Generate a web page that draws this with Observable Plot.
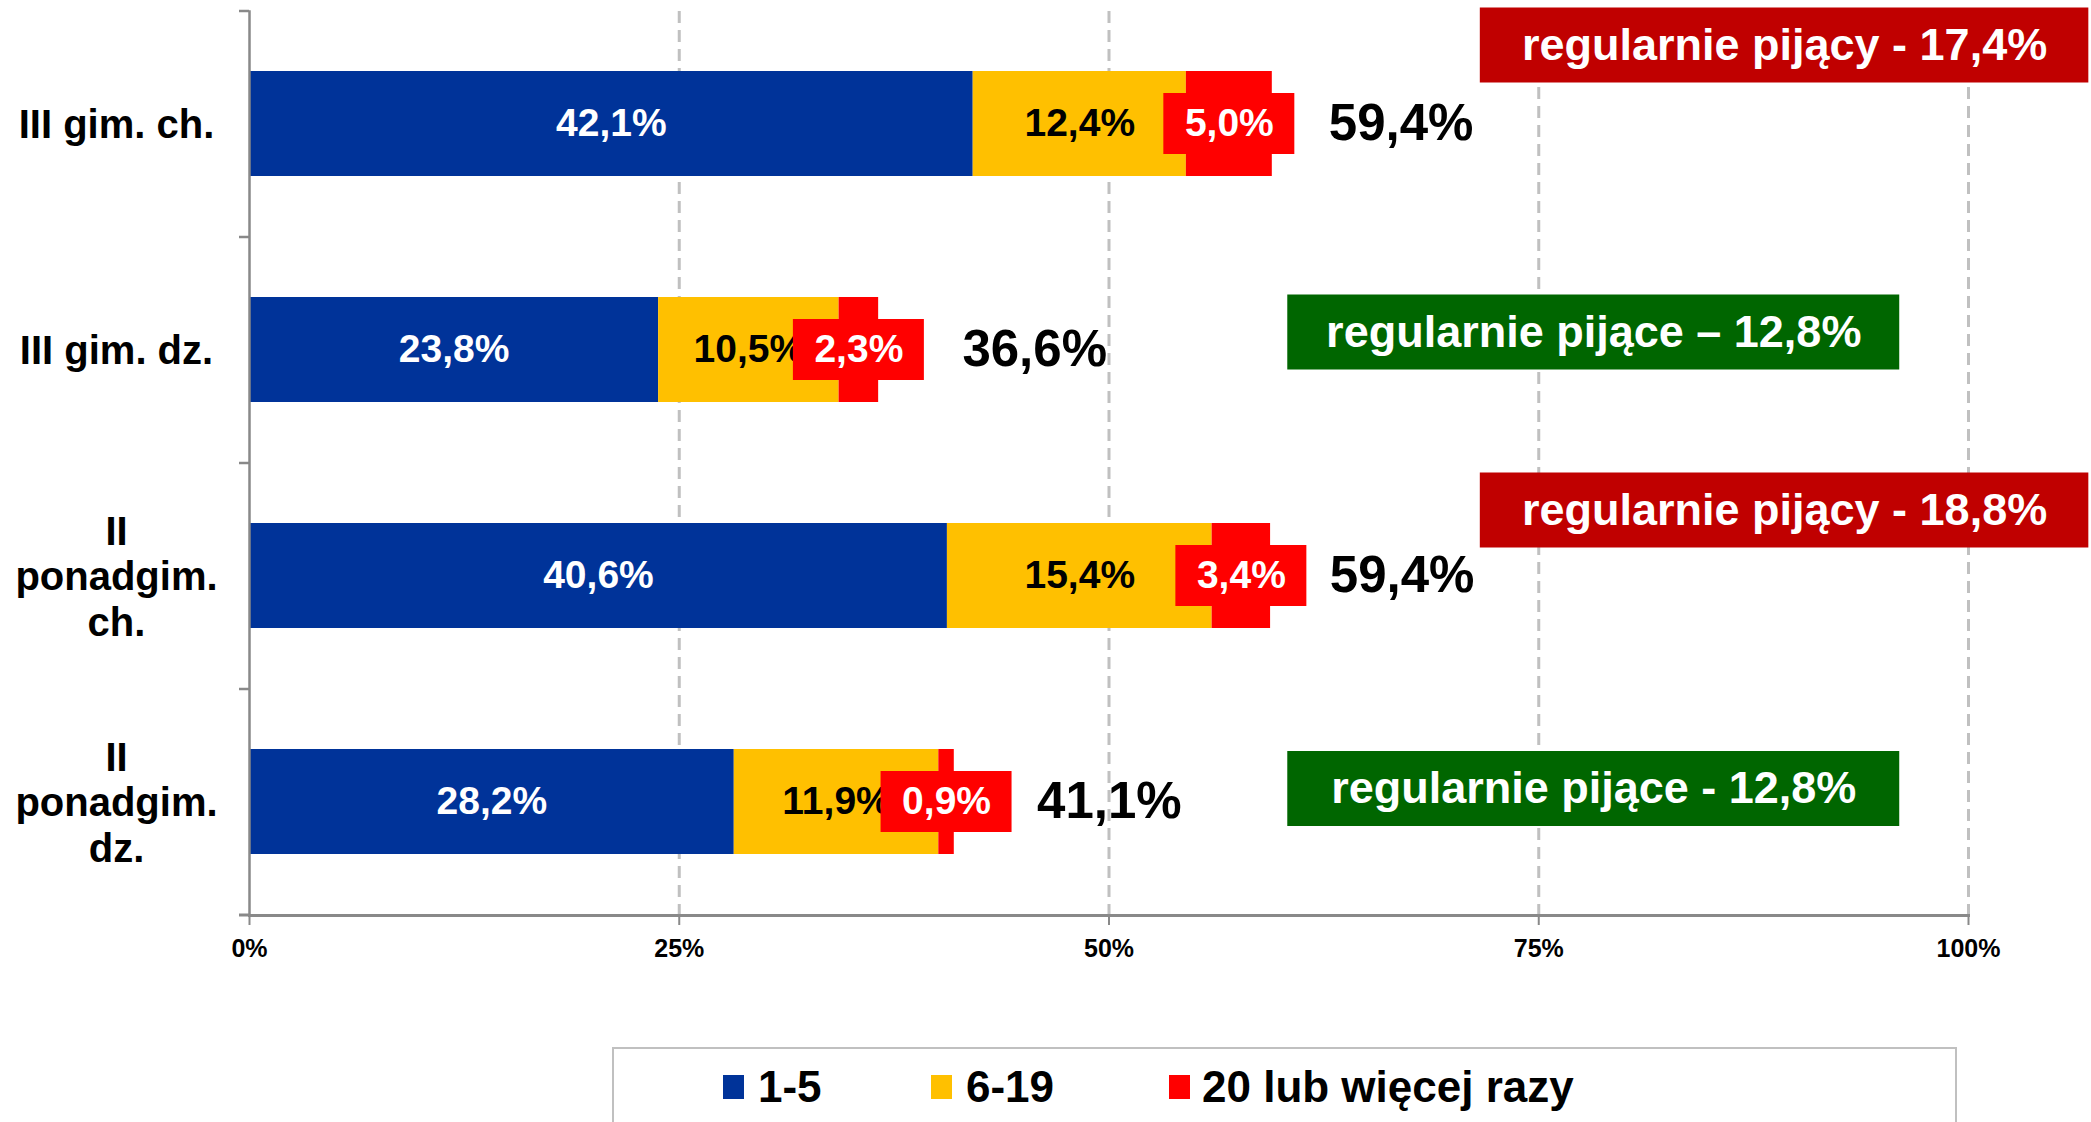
<!DOCTYPE html>
<html>
<head>
<meta charset="utf-8">
<script src="https://cdn.jsdelivr.net/npm/d3@7"></script>
<script src="https://cdn.jsdelivr.net/npm/@observablehq/plot@0.6"></script>
<style>
  html, body { margin: 0; padding: 0; background: #ffffff; }
  body { font-family: "Liberation Sans", Arial, sans-serif; width: 2091px; height: 1122px; overflow: hidden; }
  #chart svg { display: block; }
  #legend { position: relative; margin-left: 612px; margin-top: 7px; width: 1345px; height: 120px;
            border: 2px solid #c0c0c0; border-bottom: none; box-sizing: border-box; }
  .sw { position: absolute; width: 21px; height: 24px; top: 26px; }
  .lt { position: absolute; top: 16px; font-size: 44px; font-weight: bold; line-height: 1; color: #000; white-space: nowrap; }
</style>
</head>
<body>
<div id="chart"></div>
<div id="legend"></div>
<script>
// ---- data ----
const categories = ["III gim. ch.", "III gim. dz.", "II\nponadgim.\nch.", "II\nponadgim.\ndz."];
const series = ["1-5", "6-19", "20 lub więcej razy"];
const seriesColors = ["#003399", "#FFC000", "#FF0000"];
const values1to5 = [42.1, 23.8, 40.6, 28.2];
const values6to19 = [12.4, 10.5, 15.4, 11.9];
const values20plus = [5.0, 2.3, 3.4, 0.9];
const totals = [59.4, 36.6, 59.4, 41.1];
const xTicks = [0, 25, 50, 75, 100];
const badgeTexts = ["regularnie pijący - 17,4%", "regularnie pijące – 12,8%", "regularnie pijący - 18,8%", "regularnie pijące - 12,8%"];
const badgeGroups = ["ch", "dz", "ch", "dz"];

// ---- layout ----
const W = 2091, H = 1040;
const mL = 249, mR = 123, mT = 11, mB = 125;
const frameW = W - mL - mR;
const step = (H - mT - mB) / categories.length;
const fmt = v => v.toFixed(1).replace(".", ",") + "%";
const FONT = '"Liberation Sans", Arial, sans-serif';

// stacked table
const valueSets = [values1to5, values6to19, values20plus];
const rows = [];
categories.forEach((c, i) => {
  let acc = 0;
  series.forEach((s, j) => {
    const v = valueSets[j][i];
    rows.push({cat: c, series: s, value: v, x1: acc, x2: acc + v, mid: acc + v / 2, idx: i});
    acc += v;
  });
});
const redRows = rows.filter(d => d.series === series[2]);
const otherRows = rows.filter(d => d.series !== series[2]);
const halfBox = 3.81; // half width of the red label box, in % units
const totalDx = [34, 38, 23, 25];
const totalRows = categories.map((c, i) => ({cat: c, total: totals[i], anchor: redRows[i].mid + halfBox}));

const badgeRows = categories.map((c, i) => ({cat: c, text: badgeTexts[i], group: badgeGroups[i]}));
const badgeX = {ch: [71.6, 107.0], dz: [60.4, 96.0]};
const badgeFill = {ch: "#C00000", dz: "#006600"};
const badgeDy = [-78.5, -17.5, -65.5, -13];

const marks = [
  Plot.gridX({ticks: xTicks.slice(1), stroke: "#c0c0c0", strokeOpacity: 1, strokeWidth: 3, strokeDasharray: "12,7"}),
  Plot.barX(rows, {x1: "x1", x2: "x2", y: "cat", fill: "series"}),
  Plot.text(otherRows, {x: "mid", y: "cat", text: d => fmt(d.value),
    fill: d => d.series === series[0] ? "#ffffff" : "#000000",
    fontSize: 39, fontWeight: "bold"}),
  Plot.barX(redRows, {x1: d => d.mid - halfBox, x2: d => d.mid + halfBox, y: "cat", fill: "#FF0000", insetTop: 22, insetBottom: 22}),
  Plot.text(redRows, {x: "mid", y: "cat", text: d => fmt(d.value), fill: "#ffffff", fontSize: 39, fontWeight: "bold"})
];
totalRows.forEach((t, i) => {
  marks.push(Plot.text([t], {x: "anchor", y: "cat", text: d => fmt(d.total), dx: totalDx[i], textAnchor: "start",
    fill: "#000000", fontSize: 51, fontWeight: "bold"}));
});
badgeRows.forEach((b, i) => {
  marks.push(Plot.barX([b], {x1: () => badgeX[b.group][0], x2: () => badgeX[b.group][1], y: "cat", dy: badgeDy[i],
    fill: badgeFill[b.group], insetTop: 15, insetBottom: 15}));
  marks.push(Plot.text([b], {x: () => (badgeX[b.group][0] + badgeX[b.group][1]) / 2, y: "cat", dy: badgeDy[i], text: "text",
    fill: "#ffffff", fontSize: 45, fontWeight: "bold"}));
});
marks.push(
  Plot.frame({anchor: "left", stroke: "#898989", strokeWidth: 2.5}),
  Plot.frame({anchor: "bottom", stroke: "#898989", strokeWidth: 3}),
  Plot.ruleY(categories, {y: d => d, dy: -step / 2, dx: -10, insetRight: frameW - 10, stroke: "#898989", strokeWidth: 2.5}),
  Plot.ruleY([categories[categories.length - 1]], {y: d => d, dy: step / 2, dx: -10, insetRight: frameW - 10, stroke: "#898989", strokeWidth: 3}),
  Plot.axisX({ticks: xTicks, tickFormat: d => d + "%", tickSize: 10, tickPadding: 14, stroke: "#898989", strokeWidth: 2,
    fill: "#000000", fontSize: 25, fontWeight: "bold", label: null}),
  Plot.text(categories, {y: d => d, text: d => d, frameAnchor: "left", dx: -133, textAnchor: "middle",
    lineHeight: 1.13, fill: "#000000", fontSize: 40, fontWeight: "bold"})
);

const chart = Plot.plot({
  width: W, height: H,
  marginLeft: mL, marginRight: mR, marginTop: mT, marginBottom: mB,
  style: {fontFamily: FONT, background: "#ffffff", color: "#000000", overflow: "visible"},
  x: {domain: [0, 100], label: null},
  y: {domain: categories, paddingInner: 0.535, paddingOuter: 0.2675, axis: null},
  color: {domain: series, range: seriesColors},
  marks
});
document.getElementById("chart").appendChild(chart);

// legend (HTML, below the SVG)
const legend = document.getElementById("legend");
const swLeft = [109, 317, 555];
const txLeft = [144, 352, 588];
series.forEach((s, i) => {
  const sw = document.createElement("div");
  sw.className = "sw"; sw.style.left = swLeft[i] + "px"; sw.style.background = seriesColors[i];
  legend.appendChild(sw);
  const t = document.createElement("div");
  t.className = "lt"; t.style.left = txLeft[i] + "px"; t.textContent = s;
  legend.appendChild(t);
});
</script>
</body>
</html>
